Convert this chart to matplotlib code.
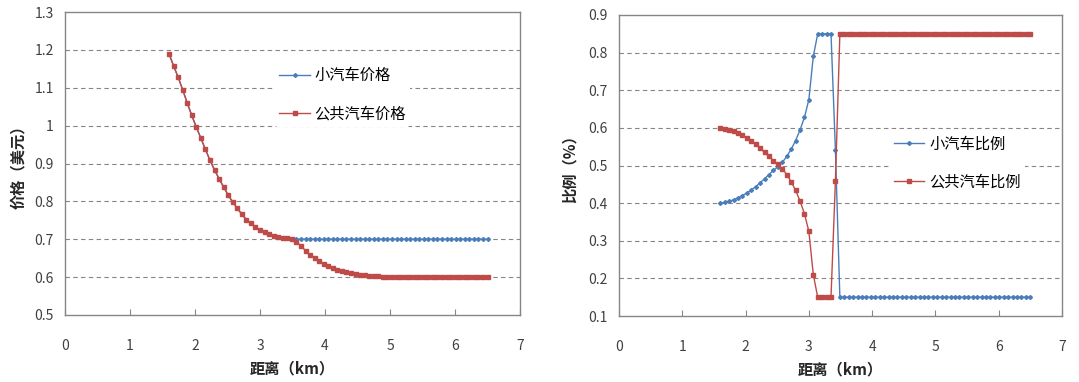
import numpy as np
import matplotlib
matplotlib.use('Agg')
import matplotlib.pyplot as plt

plt.rcParams['font.family'] = ['Noto Sans CJK SC', 'DejaVu Sans']

# distance (km)
dist = [1.60, 1.67, 1.74, 1.81, 1.88, 1.95, 2.02, 2.09, 2.16, 2.23,
        2.30, 2.37, 2.44, 2.51, 2.58, 2.65, 2.72, 2.79, 2.86, 2.93,
        3.00, 3.07, 3.14, 3.21, 3.28, 3.35, 3.42, 3.49, 3.56, 3.63,
        3.70, 3.77, 3.84, 3.91, 3.98, 4.05, 4.12, 4.19, 4.26, 4.33,
        4.40, 4.47, 4.54, 4.61, 4.68, 4.75, 4.82, 4.89, 4.96, 5.03,
        5.10, 5.17, 5.24, 5.31, 5.38, 5.45, 5.52, 5.59, 5.66, 5.73,
        5.80, 5.87, 5.94, 6.01, 6.08, 6.15, 6.22, 6.29, 6.36, 6.43,
        6.50]

# prices
bus_price = [1.190, 1.158, 1.128, 1.095, 1.060, 1.027, 0.996, 0.967, 0.937, 0.909,
             0.883, 0.860, 0.838, 0.817, 0.798, 0.782, 0.766, 0.752, 0.742, 0.732,
             0.724, 0.718, 0.713, 0.709, 0.706, 0.704, 0.702, 0.700, 0.694, 0.682,
             0.670, 0.659, 0.650, 0.642, 0.635, 0.629, 0.624, 0.620, 0.616, 0.613,
             0.610, 0.608, 0.606, 0.605, 0.604, 0.603, 0.602, 0.601, 0.601] + [0.600] * 22
car_price = bus_price[:28] + [0.700] * 43

# shares
car_share = [0.400, 0.402, 0.405, 0.409, 0.414, 0.420, 0.427, 0.435, 0.444, 0.454,
             0.465, 0.476, 0.487, 0.497, 0.508, 0.524, 0.543, 0.566, 0.594, 0.628,
             0.675, 0.790, 0.850, 0.850, 0.850, 0.850, 0.540] + [0.150] * 44
bus_share = [0.600, 0.598, 0.595, 0.591, 0.586, 0.580, 0.573, 0.565, 0.556, 0.546,
             0.535, 0.524, 0.513, 0.503, 0.492, 0.476, 0.457, 0.434, 0.406, 0.372,
             0.325, 0.210, 0.150, 0.150, 0.150, 0.150, 0.460] + [0.850] * 44

blue = '#4a7ebb'
red = '#be4b48'
grey = '#868686'

fig = plt.figure(figsize=(10.79, 3.82), dpi=100)
ax1 = fig.add_axes([65/1079, 1-315/382, 455/1079, 303/382])
ax2 = fig.add_axes([619/1079, 1-316/382, 443/1079, 301/382])


def style(ax, yticks):
    ax.set_xlim(0, 7)
    ax.set_xticks(range(8))
    ax.set_ylim(yticks[0], yticks[-1])
    ax.set_yticks(yticks)
    for y in yticks[1:-1]:
        ax.axhline(y, color=grey, lw=0.8, ls=(0, (4, 3)), zorder=0)
    for s in ax.spines.values():
        s.set_color(grey)
        s.set_linewidth(1)
    ax.tick_params(axis='x', direction='in', length=4, color=grey, labelsize=10,
                   pad=17, labelcolor='#404040')
    ax.tick_params(axis='y', length=0, labelsize=10, pad=8, labelcolor='#404040')
    ax.set_xlabel('距离（km）', fontsize=11, fontweight='bold', color='#262626', labelpad=6)


def legend(ax, x, y):
    leg = ax.legend(loc='center left', bbox_to_anchor=(x, y), frameon=True,
                    fontsize=11, handlelength=2.0, handletextpad=0.3,
                    labelspacing=1.4, borderpad=0.3)
    leg.get_frame().set_edgecolor('none')
    leg.get_frame().set_alpha(1)


style(ax1, [0.5, 0.6, 0.7, 0.8, 0.9, 1.0, 1.1, 1.2, 1.3])
ax1.set_yticklabels(['0.5', '0.6', '0.7', '0.8', '0.9', '1', '1.1', '1.2', '1.3'])
ax1.plot(dist, car_price, color=blue, lw=1, marker='D', ms=2.0, label='小汽车价格')
ax1.plot(dist, bus_price, color=red, lw=1, marker='s', ms=2.6, label='公共汽车价格')
ax1.set_ylabel('价格（美元）', fontsize=11, fontweight='bold', color='#262626', labelpad=6)
legend(ax1, 0.444, 0.726)

style(ax2, [0.1, 0.2, 0.3, 0.4, 0.5, 0.6, 0.7, 0.8, 0.9])
ax2.plot(dist, car_share, color=blue, lw=1, marker='D', ms=2.0, label='小汽车比例')
ax2.plot(dist, bus_share, color=red, lw=1, marker='s', ms=2.6, label='公共汽车比例')
ax2.set_ylabel('比例（%）', fontsize=11, fontweight='bold', color='#262626', labelpad=8)
legend(ax2, 0.593, 0.508)

fig.savefig('out.png', dpi=100)
